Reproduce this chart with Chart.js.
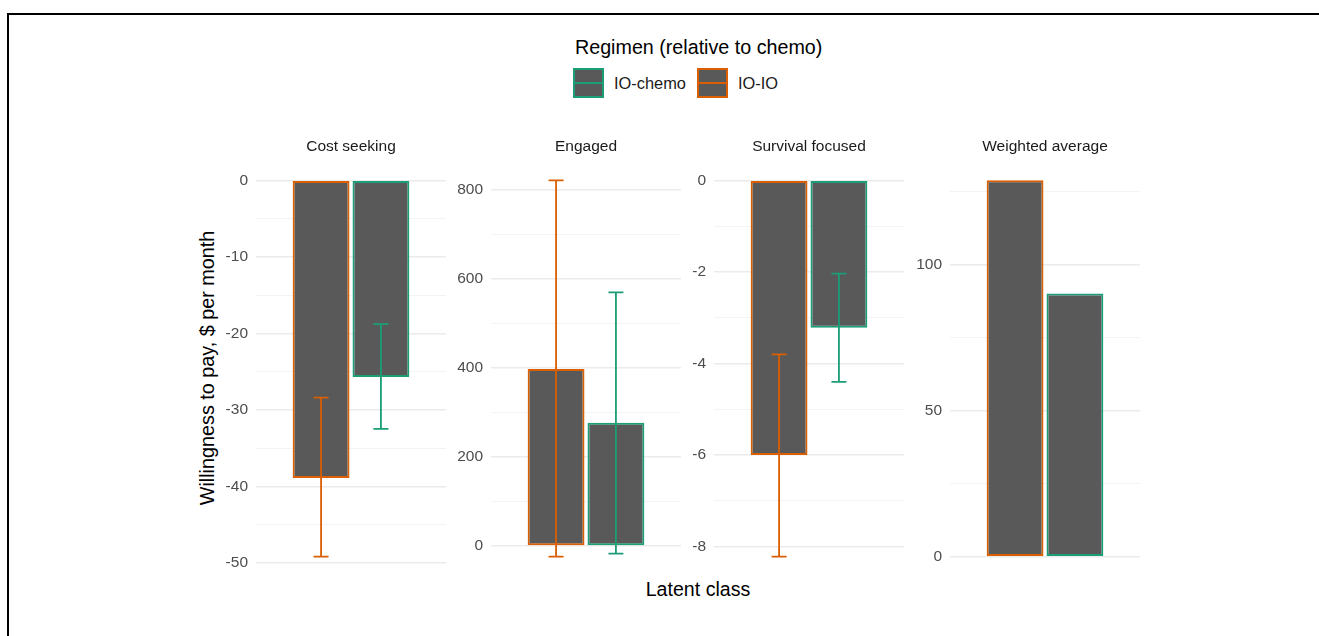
<!DOCTYPE html>
<html>
<head>
<meta charset="utf-8">
<script src="https://cdn.jsdelivr.net/npm/chart.js@4"></script>
<style>
  body { margin: 0; background: #fff; font-family: "Liberation Sans", Arial, sans-serif; }
  #page { position: relative; width: 1319px; height: 636px; overflow: hidden; }
  .frame { position: absolute; left: 7px; top: 13px; right: -10px; bottom: -10px; border-top: 2px solid #000; border-left: 2px solid #000; }
  .panel { position: absolute; top: 131px; height: 475px; }
  .strip { position: absolute; top: 137px; width: 190px; text-align: center; font-size: 15.5px; color: #1a1a1a; }
  .key { position: absolute; top: 68px; width: 27px; height: 26px; background: #595959; border: 2px solid; }
  .key span { position: absolute; left: 0; right: 0; top: 12px; height: 2px; }
  .lab { position: absolute; top: 73.5px; font-size: 16.4px; color: #1a1a1a; }
</style>
</head>
<body>
<div id="page">
  <div class="frame"></div>
  <div style="position:absolute;left:575px;top:36px;font-size:19.7px;color:#000">Regimen (relative to chemo)</div>
  <div class="key" style="left:573px;border-color:#1B9E77"><span style="background:#1B9E77"></span></div>
  <div class="lab" style="left:614px">IO-chemo</div>
  <div class="key" style="left:697px;border-color:#D95F02"><span style="background:#D95F02"></span></div>
  <div class="lab" style="left:738px">IO-IO</div>
  <div style="position:absolute;left:207px;top:368px;transform:translate(-50%,-50%) rotate(-90deg);white-space:nowrap;font-size:19.8px;color:#000">Willingness to pay, $ per month</div>
  <div style="position:absolute;left:698px;top:589px;transform:translate(-50%,-50%);font-size:19.6px;color:#000">Latent class</div>
  <div id="panels"></div>
</div>
<script>
// facets (latent classes)
const classes = ["Cost seeking", "Engaged", "Survival focused", "Weighted average"];

// IO-IO relative to chemo
const ioioValues = [-38.9, 398, -6.0, 128.7];
const ioioLow = [-49.2, -24, -8.22, null];
const ioioHigh = [-28.4, 822, -3.8, null];

// IO-chemo relative to chemo
const iochemoValues = [-25.7, 277, -3.22, 90];
const iochemoLow = [-32.5, -17, -4.4, null];
const iochemoHigh = [-18.8, 570, -2.04, null];

// tick labels per facet (free y scales)
const majorTicks = [[0, -10, -20, -30, -40, -50], [0, 200, 400, 600, 800], [0, -2, -4, -6, -8], [0, 50, 100]];
const minorTicks = [[-5, -15, -25, -35, -45], [100, 300, 500, 700], [-1, -3, -5, -7], [25, 75, 125]];

const ORANGE = "#D95F02";
const GREEN = "#1B9E77";
const panelLeft = [256, 491, 714, 950];
const panelWidth = 190;
const axisWidth = 50;

const errorBars = {
  id: "errorBars",
  afterDatasetsDraw(chart) {
    const ctx = chart.ctx;
    const y = chart.scales.y;
    chart.data.datasets.forEach((ds, i) => {
      const meta = chart.getDatasetMeta(i);
      meta.data.forEach((bar, j) => {
        const lo = ds.errLow[j], hi = ds.errHigh[j];
        if (lo == null || hi == null) return;
        const yl = y.getPixelForValue(lo);
        const yh = y.getPixelForValue(hi);
        ctx.save();
        ctx.strokeStyle = ds.borderColor;
        ctx.lineWidth = 1.8;
        ctx.beginPath();
        ctx.moveTo(bar.x, yl); ctx.lineTo(bar.x, yh);
        ctx.moveTo(bar.x - 7.5, yl); ctx.lineTo(bar.x + 7.5, yl);
        ctx.moveTo(bar.x - 7.5, yh); ctx.lineTo(bar.x + 7.5, yh);
        ctx.stroke();
        ctx.restore();
      });
    });
  }
};

classes.forEach((name, k) => {
  const wrap = document.createElement("div");
  wrap.className = "panel";
  wrap.style.left = (panelLeft[k] - axisWidth) + "px";
  wrap.style.width = (panelWidth + axisWidth) + "px";
  const canvas = document.createElement("canvas");
  wrap.appendChild(canvas);
  document.getElementById("panels").appendChild(wrap);

  const strip = document.createElement("div");
  strip.className = "strip";
  strip.style.left = panelLeft[k] + "px";
  strip.textContent = name;
  document.getElementById("panels").appendChild(strip);

  // ggplot-style range: include zero and error bars, expand 5%
  const all = [0, ioioValues[k], iochemoValues[k], ioioLow[k], ioioHigh[k], iochemoLow[k], iochemoHigh[k]].filter(v => v != null);
  const lo = Math.min(...all), hi = Math.max(...all);
  const pad = (hi - lo) * 0.05;
  const majors = majorTicks[k];

  new Chart(canvas, {
    type: "bar",
    data: {
      labels: [name],
      datasets: [
        {
          label: "IO-IO",
          data: [ioioValues[k]],
          errLow: [ioioLow[k]],
          errHigh: [ioioHigh[k]],
          backgroundColor: "#595959",
          borderColor: ORANGE,
          borderWidth: 2,
          borderSkipped: false,
        },
        {
          label: "IO-chemo",
          data: [iochemoValues[k]],
          errLow: [iochemoLow[k]],
          errHigh: [iochemoHigh[k]],
          backgroundColor: "#595959",
          borderColor: GREEN,
          borderWidth: 2,
          borderSkipped: false,
        },
      ],
    },
    options: {
      responsive: true,
      maintainAspectRatio: false,
      animation: false,
      categoryPercentage: 0.63,
      barPercentage: 0.95,
      layout: { padding: { top: 30.5, bottom: 30.5, left: 0, right: 0 } },
      plugins: {
        legend: { display: false },
        tooltip: { enabled: false },
      },
      scales: {
        x: { display: false },
        y: {
          min: lo - pad,
          max: hi + pad,
          afterBuildTicks: (axis) => {
            axis.ticks = majors.concat(minorTicks[k]).sort((a, b) => a - b).map(v => ({ value: v }));
          },
          afterFit: (axis) => { axis.width = axisWidth; },
          border: { display: false },
          grid: {
            drawTicks: false,
            color: (c) => majors.includes(c.tick.value) ? "#EBEBEB" : "#F0F0F0",
            lineWidth: (c) => majors.includes(c.tick.value) ? 1.4 : 0.8,
          },
          ticks: {
            padding: 8,
            color: "#4D4D4D",
            font: { family: "Liberation Sans", size: 15.5 },
            callback: (v) => majors.includes(v) ? String(v) : "",
          },
        },
      },
    },
    plugins: [errorBars],
  });
});
</script>
</body>
</html>
